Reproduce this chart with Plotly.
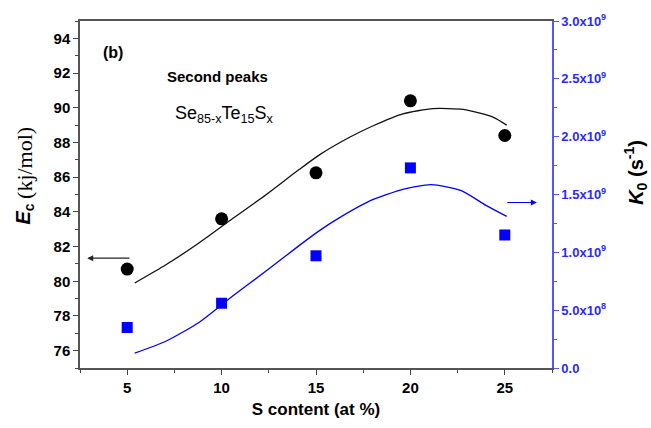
import plotly.graph_objects as go

# measured data
s_content = [5, 10, 15, 20, 25]
ec_values = [80.7, 83.6, 86.25, 90.4, 88.4]          # kJ/mol (left axis)
k0_values = [3.5e8, 5.6e8, 9.7e8, 1.73e9, 1.15e9]     # s^-1 (right axis)

# fitted curves
fit_x = [5.4, 7.05, 8.8, 10.57, 12.37, 14.12, 15.2, 16.78, 18.0, 19.6, 21.2, 22.8, 24.4, 25.1]
ec_fit = [79.9, 80.95, 82.2, 83.6, 85.0, 86.45, 87.3, 88.3, 88.95, 89.65, 89.95, 89.9, 89.45, 89.0]
k0_fit_x = [5.4, 7.05, 8.8, 10.57, 12.37, 14.12, 15.2, 16.25, 18.0, 19.6, 21.1, 22.7, 24.0, 25.1]
k0_fit = [1.29e8, 2.31e8, 3.94e8, 6.2e8, 8.4e8, 1.06e9, 1.19e9, 1.3e9, 1.455e9, 1.545e9, 1.586e9, 1.534e9, 1.406e9, 1.311e9]

x_ticks = [5, 10, 15, 20, 25]
left_ticks = [76, 78, 80, 82, 84, 86, 88, 90, 92, 94]
right_tickvals = [0, 5e8, 1e9, 1.5e9, 2e9, 2.5e9, 3e9]
right_ticktext = ["0.0", "5.0x10<sup>8</sup>", "1.0x10<sup>9</sup>", "1.5x10<sup>9</sup>",
                  "2.0x10<sup>9</sup>", "2.5x10<sup>9</sup>", "3.0x10<sup>9</sup>"]

BLUE = "#0000ff"
AXIS_BLUE = "#5555ff"
TICK_BLUE = "#2a2aff"
FONT = "Liberation Sans, Arial, sans-serif"
SERIF = "Liberation Serif, Times New Roman, serif"

fig = go.Figure()

fig.add_trace(go.Scatter(x=fit_x, y=ec_fit, mode="lines",
                         line=dict(color="#111111", width=1.3, shape="spline", smoothing=0.6),
                         showlegend=False, hoverinfo="skip"))
fig.add_trace(go.Scatter(x=k0_fit_x, y=k0_fit, mode="lines",
                         line=dict(color=BLUE, width=1.3, shape="spline", smoothing=0.6),
                         yaxis="y2", showlegend=False, hoverinfo="skip"))
fig.add_trace(go.Scatter(x=s_content, y=ec_values, mode="markers",
                         marker=dict(symbol="circle", size=13, color="black"), showlegend=False))
fig.add_trace(go.Scatter(x=s_content, y=k0_values, mode="markers",
                         marker=dict(symbol="square", size=11, color=BLUE), yaxis="y2", showlegend=False))

fig.update_layout(
    width=651, height=428,
    margin=dict(l=80, r=99, t=16, b=60),
    paper_bgcolor="white", plot_bgcolor="white",
    font=dict(family=FONT, color="black"),
    xaxis=dict(
        range=[2.5, 27.5], tickvals=x_ticks, ticks="outside", ticklen=5, tickwidth=1.2, tickcolor="#444",
        showline=True, linecolor="#555", linewidth=1.5, mirror=True, showgrid=False, zeroline=False,
        tickfont=dict(size=15, family=FONT, weight="bold"),
        minor=dict(dtick=2.5, tick0=2.5, ticks="outside", ticklen=3, tickcolor="#444", showgrid=False),
        title=dict(text="S content (at %)", font=dict(size=17, weight="bold"), standoff=8),
    ),
    yaxis=dict(
        range=[75, 95], tickvals=left_ticks, ticks="outside", ticklen=5, tickwidth=1.2, tickcolor="#444",
        showline=True, linecolor="#555", linewidth=1.5, showgrid=False, zeroline=False,
        tickfont=dict(size=15, family=FONT, weight="bold"),
        minor=dict(dtick=1, tick0=75, ticks="outside", ticklen=3, tickcolor="#444", showgrid=False),
    ),
    yaxis2=dict(
        range=[0, 3e9], overlaying="y", side="right", tickvals=right_tickvals, ticktext=right_ticktext,
        ticks="outside", ticklen=5, tickwidth=1.2, tickcolor=AXIS_BLUE,
        showline=True, linecolor=AXIS_BLUE, linewidth=1.5, showgrid=False, zeroline=False,
        tickfont=dict(size=13, color=TICK_BLUE, family=FONT, weight="bold"),
        minor=dict(dtick=2.5e8, tick0=0, ticks="outside", ticklen=3, tickcolor=AXIS_BLUE, showgrid=False),
    ),
)

# axis titles as rotated annotations
fig.add_annotation(x=-0.118, y=0.443, xref="paper", yref="paper", textangle=-90, showarrow=False,
                   text="<b><i>E</i><sub>c</sub></b>",
                   font=dict(size=20, family=FONT), xanchor="center", yanchor="middle")
fig.add_annotation(x=-0.1165, y=0.591, xref="paper", yref="paper", textangle=-90, showarrow=False,
                   text="(kj/mol)",
                   font=dict(size=22, family=SERIF), xanchor="center", yanchor="middle")
fig.add_annotation(x=1.178, y=0.5625, xref="paper", yref="paper", textangle=-90, showarrow=False,
                   text="<b><i>K</i><sub>0</sub> (s<sup>-1</sup>)</b>",
                   font=dict(size=20), xanchor="center", yanchor="middle")

fig.add_annotation(x=0.045, y=0.91, xref="paper", yref="paper", text="(b)", showarrow=False,
                   font=dict(size=16, weight="bold"), xanchor="left", yanchor="middle")
fig.add_annotation(x=0.18, y=0.84, xref="paper", yref="paper", text="Second peaks", showarrow=False,
                   font=dict(size=15, weight="bold"), xanchor="left", yanchor="middle")
fig.add_annotation(x=0.198, y=0.73, xref="paper", yref="paper",
                   text="Se<sub>85-x</sub>Te<sub>15</sub>S<sub>x</sub>", showarrow=False,
                   font=dict(size=18), xanchor="left", yanchor="middle")

# arrows pointing to the axes
fig.add_annotation(x=2.88, y=81.33, ax=5.2, ay=81.33, xref="x", yref="y", axref="x", ayref="y",
                   text="", showarrow=True, arrowhead=2, arrowsize=1, arrowwidth=1.2, arrowcolor="#222")
fig.add_annotation(x=26.7, y=1.431e9, ax=25.05, ay=1.431e9, xref="x", yref="y2", axref="x", ayref="y2",
                   text="", showarrow=True, arrowhead=2, arrowsize=1, arrowwidth=1.2, arrowcolor=BLUE)

fig.write_html("out.html")
